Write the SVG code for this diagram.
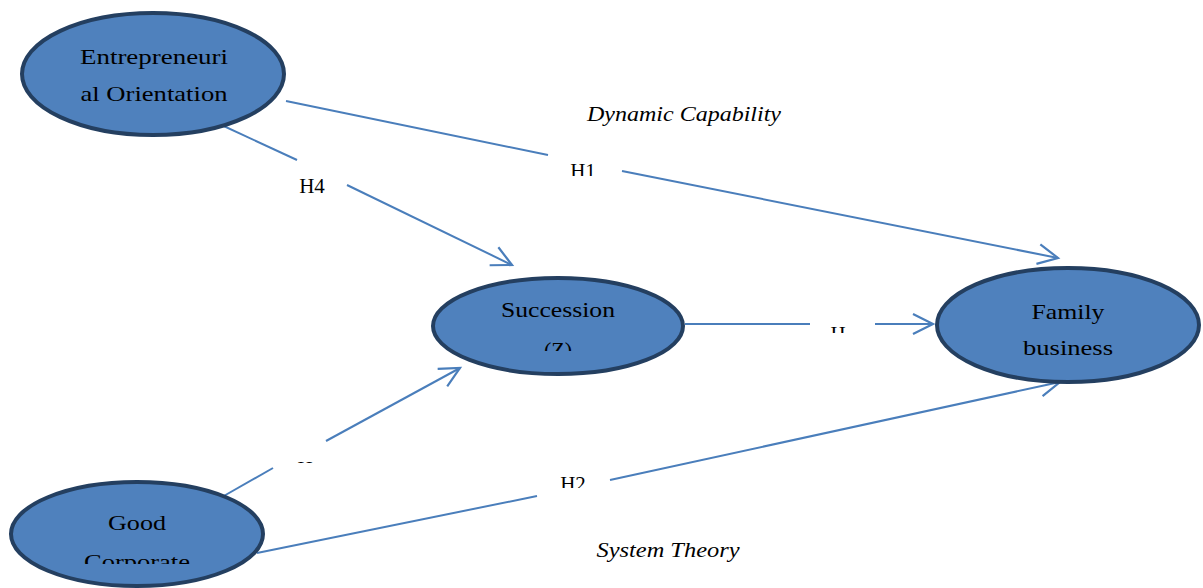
<svg xmlns="http://www.w3.org/2000/svg" width="1203" height="588" viewBox="0 0 1203 588">
<style>
.node{fill:#4F81BD;stroke:#243F60;stroke-width:4}
.lbl{font-family:"Liberation Serif","Times New Roman",serif;font-size:22px;fill:#000;text-anchor:middle}
.h{font-family:"Liberation Serif","Times New Roman",serif;font-size:21px;fill:#000;text-anchor:middle}
.it{font-family:"Liberation Serif","Times New Roman",serif;font-size:20px;font-style:italic;fill:#000;text-anchor:middle}
.edge{stroke:#4A7EBB;stroke-width:2;fill:none}
</style>
<defs>
<marker id="arr" markerUnits="userSpaceOnUse" markerWidth="26" markerHeight="26" viewBox="0 0 26 26" refX="23" refY="13" orient="auto">
<path d="M3,3 L23,13 L3,23" fill="none" stroke="#4A7EBB" stroke-width="2.2"/>
</marker>
<clipPath id="cZ"><rect x="440" y="330" width="240" height="21"/></clipPath>
<clipPath id="cGC"><rect x="20" y="540" width="240" height="24"/></clipPath>
<clipPath id="cH1"><rect x="540" y="150" width="90" height="26"/></clipPath>
<clipPath id="cHm"><rect x="800" y="315" width="80" height="18"/></clipPath>
<clipPath id="cHl"><rect x="270" y="445" width="80" height="18"/></clipPath>
<clipPath id="cH2"><rect x="530" y="465" width="90" height="23"/></clipPath>
</defs>
<g id="connectors">
<path class="edge" d="M286,101 L548,155"/>
<path class="edge" d="M622,171 L1058,258" marker-end="url(#arr)"/>
<path class="edge" d="M215,122 L297,160"/>
<path class="edge" d="M347,185 L512,265" marker-end="url(#arr)"/>
<path class="edge" d="M685,324 L810,324"/>
<path class="edge" d="M875,324 L933,324" marker-end="url(#arr)"/>
<path class="edge" d="M222,497 L273,468"/>
<path class="edge" d="M326,441 L460,368" marker-end="url(#arr)"/>
<path class="edge" d="M257,553 L537,496"/>
<path class="edge" d="M610,480 L1060,382" marker-end="url(#arr)"/>
<text class="h" x="312" y="193">H4</text>
<text class="h" x="583" y="178" clip-path="url(#cH1)">H1</text>
<text class="h" x="838" y="341" clip-path="url(#cHm)">H</text>
<text class="h" x="305" y="476" clip-path="url(#cHl)">H</text>
<text class="h" x="573" y="491" clip-path="url(#cH2)">H2</text>
</g>
<g id="entrepreneurial-orientation">
<ellipse class="node" cx="153" cy="74" rx="131" ry="61"/>
<text class="lbl" x="154" y="64" textLength="148" lengthAdjust="spacingAndGlyphs">Entrepreneuri</text>
<text class="lbl" x="154" y="101" textLength="147" lengthAdjust="spacingAndGlyphs">al Orientation</text>
</g>
<g id="succession">
<ellipse class="node" cx="558" cy="326" rx="125" ry="48"/>
<text class="lbl" x="558" y="317" textLength="114" lengthAdjust="spacingAndGlyphs">Succession</text>
<text class="lbl" x="558" y="357" clip-path="url(#cZ)">(Z)</text>
</g>
<g id="family-business">
<ellipse class="node" cx="1068" cy="325" rx="131" ry="57"/>
<text class="lbl" x="1068" y="319" textLength="73" lengthAdjust="spacingAndGlyphs">Family</text>
<text class="lbl" x="1068" y="355" textLength="90" lengthAdjust="spacingAndGlyphs">business</text>
</g>
<g id="good-corporate">
<ellipse class="node" cx="137" cy="534" rx="126" ry="52"/>
<text class="lbl" x="137" y="530" textLength="58" lengthAdjust="spacingAndGlyphs">Good</text>
<text class="lbl" x="137" y="569" textLength="106" lengthAdjust="spacingAndGlyphs" clip-path="url(#cGC)">Corporate</text>
</g>
<g id="theories">
<text class="it" x="684" y="121" textLength="194" lengthAdjust="spacingAndGlyphs">Dynamic Capability</text>
<text class="it" x="668" y="557" textLength="143" lengthAdjust="spacingAndGlyphs">System Theory</text>
</g>
</svg>
